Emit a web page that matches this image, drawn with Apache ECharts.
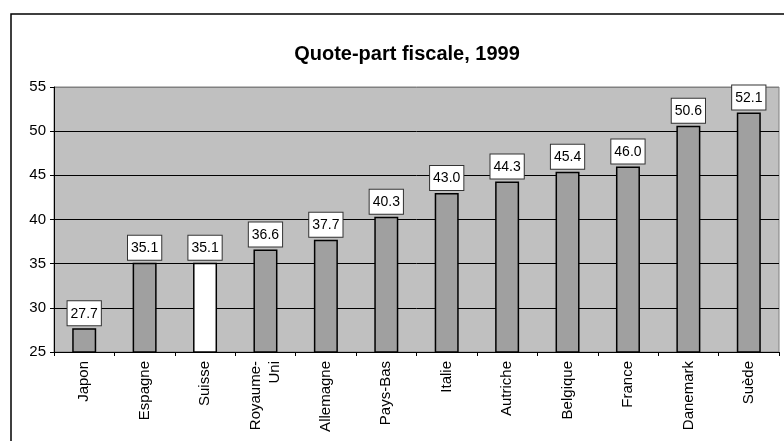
<!DOCTYPE html>
<html>
<head>
<meta charset="utf-8">
<script src="https://cdn.jsdelivr.net/npm/echarts@6/dist/echarts.min.js"></script>
<style>
  html, body { margin: 0; padding: 0; background: #fff; }
  #chart { width: 784px; height: 441px; }
</style>
</head>
<body>
<div id="chart"></div>
<script>
var countries = ['Japon', 'Espagne', 'Suisse', 'Royaume-\nUni', 'Allemagne', 'Pays-Bas',
  'Italie', 'Autriche', 'Belgique', 'France', 'Danemark', 'Suède'];
var quotePart = [27.7, 35.1, 35.1, 36.6, 37.7, 40.3, 43.0, 44.3, 45.4, 46.0, 50.6, 52.1];
var highlighted = 'Suisse';

var font = 'Liberation Sans, Arial, sans-serif';

var myChart = echarts.init(document.getElementById('chart'));

var option = {
  animation: false,
  textStyle: { fontFamily: font },
  title: {
    text: 'Quote-part fiscale, 1999',
    left: 402,
    textAlign: 'center',
    top: 39,
    textStyle: { fontSize: 20, fontWeight: 'bold', color: '#000', fontFamily: font }
  },
  graphic: [{
    type: 'rect',
    z: -1,
    shape: { x: 11, y: 14, width: 800, height: 500 },
    style: { fill: 'none', stroke: '#000', lineWidth: 1.5 }
  }],
  grid: {
    left: 54, top: 87, right: 5, bottom: 89,
    show: true,
    backgroundColor: '#c0c0c0',
    borderColor: '#808080',
    borderWidth: 1
  },
  xAxis: {
    type: 'category',
    data: countries,
    axisLine: { lineStyle: { color: '#000', width: 1 } },
    axisTick: { show: true, length: 4, lineStyle: { color: '#000' } },
    axisLabel: {
      rotate: 90, margin: 9, color: '#000', fontSize: 15, lineHeight: 19, fontFamily: font
    }
  },
  yAxis: {
    type: 'value',
    min: 25, max: 55, interval: 5,
    axisLine: { show: true, lineStyle: { color: '#000', width: 1 } },
    axisTick: { show: true, length: 4, lineStyle: { color: '#000' } },
    axisLabel: { color: '#000', fontSize: 15, margin: 8, fontFamily: font },
    splitLine: {
      show: true,
      lineStyle: { color: ['#000', '#000', '#000', '#000', '#000', '#000', '#808080'], width: 1 }
    }
  },
  series: [{
    type: 'bar',
    barWidth: 24,
    data: quotePart.map(function (v, i) {
      return {
        value: v,
        itemStyle: { color: countries[i] === highlighted ? '#ffffff' : '#a0a0a0' }
      };
    }),
    itemStyle: { borderColor: '#000', borderWidth: 1.5 },
    label: {
      show: true,
      position: 'top',
      distance: 3,
      formatter: function (p) { return p.value.toFixed(1); },
      color: '#000',
      fontSize: 14,
      lineHeight: 15,
      fontFamily: font,
      backgroundColor: '#fff',
      borderColor: '#333',
      borderWidth: 1,
      padding: [5, 3, 4, 3]
    }
  }]
};

myChart.setOption(option);
</script>
</body>
</html>
